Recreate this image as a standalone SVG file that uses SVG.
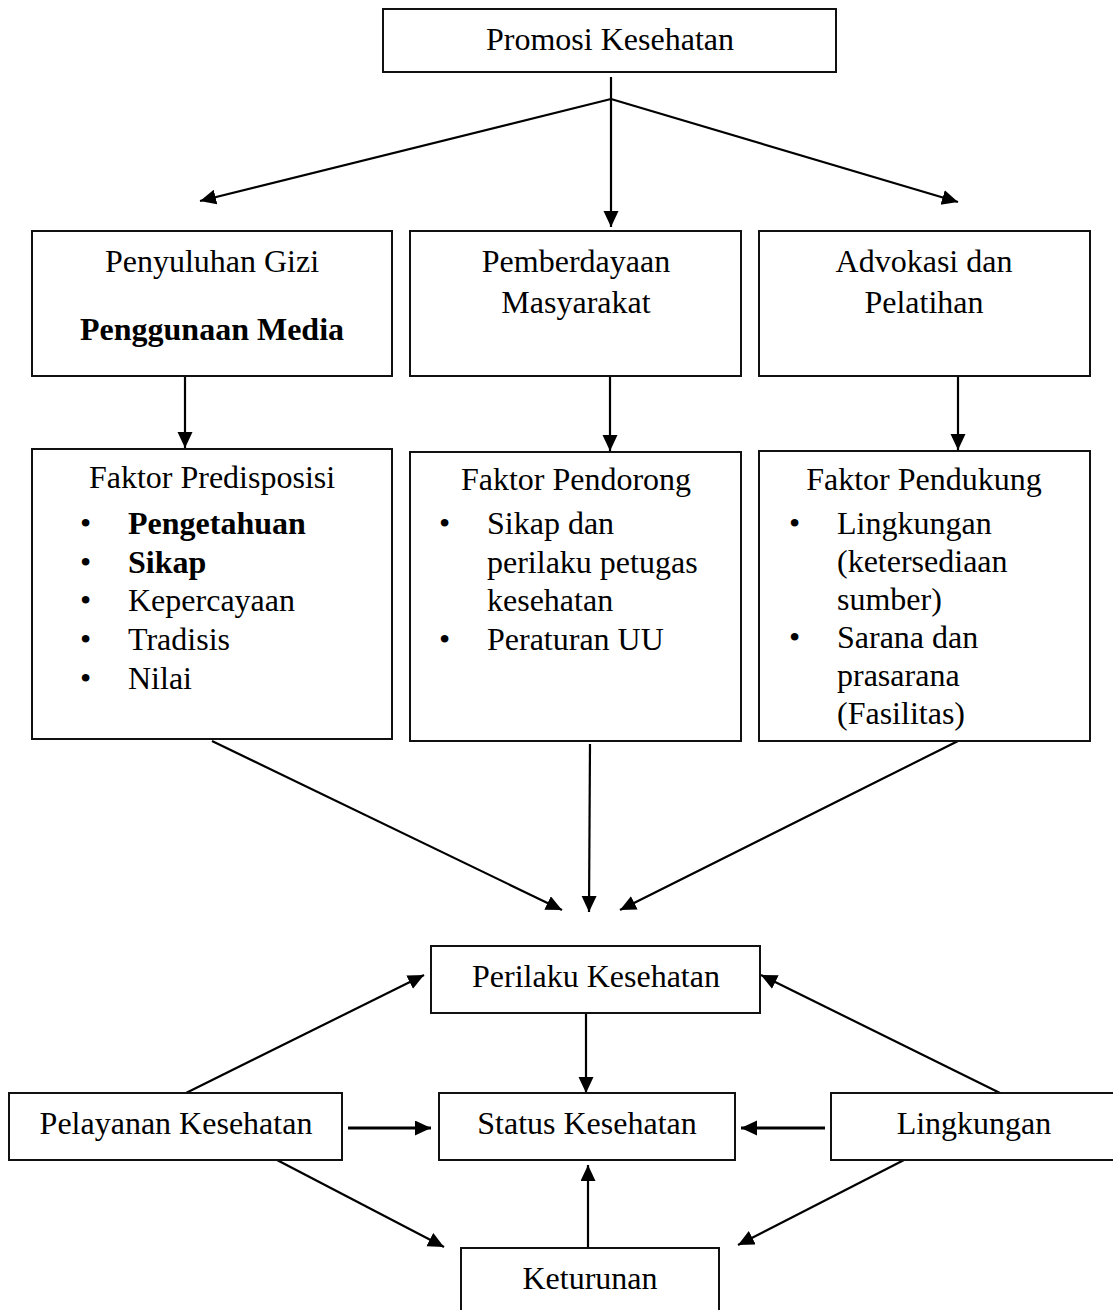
<svg xmlns="http://www.w3.org/2000/svg" width="1113" height="1310" viewBox="0 0 1113 1310">
<defs>
<style>
.box{fill:#fff;stroke:#111;stroke-width:2}
.t{font-family:"Liberation Serif","Times New Roman",serif;font-size:32px;fill:#000}
.c{text-anchor:middle}
.b{font-weight:bold}
.ln{stroke:#000;stroke-width:2.2;fill:none;marker-end:url(#ah)}
.thick{stroke-width:3}
</style>
<marker id="ah" markerUnits="userSpaceOnUse" markerWidth="18" markerHeight="16" refX="16" refY="7.5" orient="auto">
<path d="M0,0 L16,7.5 L0,15 Z" fill="#000"/>
</marker>
</defs>
<rect width="1113" height="1310" fill="#fff"/>

<g id="connectors">
<line class="ln" x1="611" y1="77" x2="611" y2="227"/>
<line class="ln" x1="611" y1="99" x2="200" y2="201"/>
<line class="ln" x1="611" y1="99" x2="958" y2="202"/>
<line class="ln" x1="185" y1="376" x2="185" y2="448"/>
<line class="ln" x1="610" y1="376" x2="610" y2="451"/>
<line class="ln" x1="958" y1="373" x2="958" y2="450"/>
<line class="ln" x1="212" y1="741" x2="562" y2="910"/>
<line class="ln" x1="590" y1="744" x2="589" y2="912"/>
<line class="ln" x1="958" y1="741" x2="620" y2="910"/>
<line class="ln" x1="586" y1="1013" x2="586" y2="1093"/>
<line class="ln" x1="186" y1="1093" x2="424" y2="975"/>
<line class="ln" x1="1000" y1="1093" x2="761" y2="975"/>
<line class="ln thick" x1="348" y1="1128" x2="431" y2="1128"/>
<line class="ln thick" x1="825" y1="1128" x2="741" y2="1128"/>
<line class="ln" x1="277" y1="1160" x2="444" y2="1247"/>
<line class="ln" x1="904" y1="1160" x2="738" y2="1245"/>
<line class="ln" x1="588" y1="1247" x2="588" y2="1165"/>
</g>

<g id="promosi">
<rect class="box" x="383" y="9" width="453" height="63"/>
<text class="t c" x="610" y="50">Promosi Kesehatan</text>
</g>

<g id="penyuluhan">
<rect class="box" x="32" y="231" width="360" height="145"/>
<text class="t c" x="212" y="272">Penyuluhan Gizi</text>
<text class="t c b" x="212" y="340">Penggunaan Media</text>
</g>

<g id="pemberdayaan">
<rect class="box" x="410" y="231" width="331" height="145"/>
<text class="t c" x="576" y="272">Pemberdayaan</text>
<text class="t c" x="576" y="313">Masyarakat</text>
</g>

<g id="advokasi">
<rect class="box" x="759" y="231" width="331" height="145"/>
<text class="t c" x="924" y="272">Advokasi dan</text>
<text class="t c" x="924" y="313">Pelatihan</text>
</g>

<g id="predisposisi">
<rect class="box" x="32" y="449" width="360" height="290"/>
<text class="t c" x="212" y="488">Faktor Predisposisi</text>
<text class="t" x="80" y="534">•</text><text class="t b" x="128" y="534">Pengetahuan</text>
<text class="t" x="80" y="573">•</text><text class="t b" x="128" y="573">Sikap</text>
<text class="t" x="80" y="611">•</text><text class="t" x="128" y="611">Kepercayaan</text>
<text class="t" x="80" y="650">•</text><text class="t" x="128" y="650">Tradisis</text>
<text class="t" x="80" y="689">•</text><text class="t" x="128" y="689">Nilai</text>
</g>

<g id="pendorong">
<rect class="box" x="410" y="452" width="331" height="289"/>
<text class="t c" x="576" y="490">Faktor Pendorong</text>
<text class="t" x="439" y="534">•</text><text class="t" x="487" y="534">Sikap  dan</text>
<text class="t" x="487" y="573">perilaku petugas</text>
<text class="t" x="487" y="611">kesehatan</text>
<text class="t" x="439" y="650">•</text><text class="t" x="487" y="650">Peraturan UU</text>
</g>

<g id="pendukung">
<rect class="box" x="759" y="451" width="331" height="290"/>
<text class="t c" x="924" y="490">Faktor Pendukung</text>
<text class="t" x="789" y="534">•</text><text class="t" x="837" y="534">Lingkungan</text>
<text class="t" x="837" y="572">(ketersediaan</text>
<text class="t" x="837" y="610">sumber)</text>
<text class="t" x="789" y="648">•</text><text class="t" x="837" y="648">Sarana dan</text>
<text class="t" x="837" y="686">prasarana</text>
<text class="t" x="837" y="724">(Fasilitas)</text>
</g>

<g id="perilaku">
<rect class="box" x="431" y="946" width="329" height="67"/>
<text class="t c" x="596" y="987">Perilaku Kesehatan</text>
</g>

<g id="status">
<rect class="box" x="439" y="1093" width="296" height="67"/>
<text class="t c" x="587" y="1134">Status Kesehatan</text>
</g>

<g id="pelayanan">
<rect class="box" x="9" y="1093" width="333" height="67"/>
<text class="t c" x="176" y="1134">Pelayanan Kesehatan</text>
</g>

<g id="lingkungan">
<rect class="box" x="831" y="1093" width="300" height="67"/>
<text class="t c" x="974" y="1134">Lingkungan</text>
</g>

<g id="keturunan">
<rect class="box" x="461" y="1248" width="258" height="80"/>
<text class="t c" x="590" y="1289">Keturunan</text>
</g>
</svg>
